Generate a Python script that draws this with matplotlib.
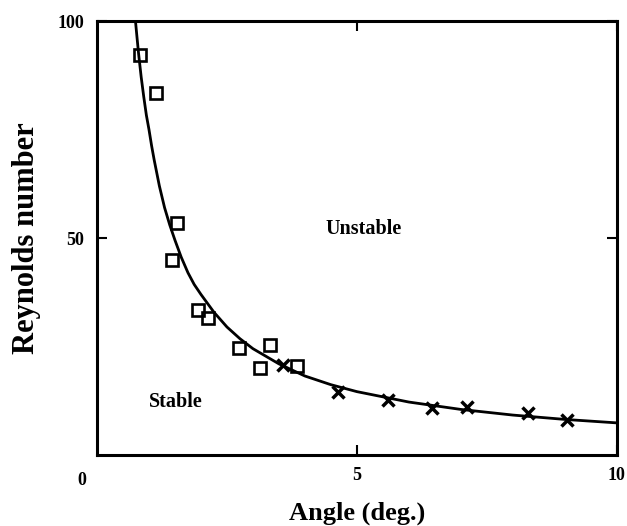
import matplotlib
matplotlib.use("Agg")
import matplotlib.pyplot as plt

# measured stability points
square_angle = [0.83, 1.13, 1.54, 1.44, 1.94, 2.13, 2.73, 3.33, 3.13, 3.85]
square_re = [92.2, 83.4, 53.5, 44.9, 33.4, 31.6, 24.7, 25.3, 20.0, 20.5]

cross_angle = [3.58, 4.63, 5.60, 6.44, 7.12, 8.29, 9.04]
cross_re = [20.7, 14.5, 12.7, 10.8, 11.1, 9.7, 8.1]

# neutral stability curve
curve_angle = [0.74, 0.77, 0.8, 0.85, 0.9, 0.95, 1.0, 1.05, 1.1, 1.15, 1.2,
               1.3, 1.4, 1.5, 1.62, 1.75, 1.87, 2.0, 2.25, 2.5, 2.75, 3.0,
               3.5, 4.0, 4.5, 5.0, 6.0, 7.0, 8.0, 9.0, 10.0]
curve_re = [100, 96.2, 92.5, 87.1, 82.5, 78.3, 75.0, 71.3, 68.0, 65.0, 62.0,
            57.0, 53.0, 49.5, 45.6, 42.0, 39.3, 37.0, 32.9, 29.5, 26.8, 24.5,
            21.0, 18.2, 16.2, 14.6, 12.2, 10.5, 9.2, 8.2, 7.4]

plt.rcParams['font.family'] = ['Liberation Serif', 'DejaVu Serif']

fig = plt.figure(figsize=(6.27, 5.26), dpi=100)
ax = fig.add_axes([0.1547, 0.135, 0.829, 0.825])

ax.plot(curve_angle, curve_re, color='black', lw=2.0)
ax.plot(square_angle, square_re, 's', ms=8.5, mfc='none', mec='black', mew=1.9)
ax.plot(cross_angle, cross_re, 'x', ms=9, mec='black', mew=2.5)

ax.set_xlim(0, 10)
ax.set_ylim(0, 100)
ax.set_xticks([5, 10])
ax.set_yticks([50, 100])
ax.tick_params(direction='in', length=7, width=1.5, top=True, right=True,
               labelsize=13, pad=9)
for lab in ax.get_xticklabels() + ax.get_yticklabels():
    lab.set_fontweight('bold')
ax.text(-0.02, -0.04, '0', transform=ax.transAxes, ha='right', va='top',
        fontsize=13, fontweight='bold')

for sp in ax.spines.values():
    sp.set_linewidth(2.2)

ax.text(5.13, 52, 'Unstable', ha='center', va='center', fontsize=14.5,
        fontweight='bold')
ax.text(1.52, 12.2, 'Stable', ha='center', va='center', fontsize=14.5,
        fontweight='bold')

ax.set_xlabel('Angle (deg.)', fontsize=19, fontweight='bold', labelpad=12)
ax.set_ylabel('Reynolds number', fontsize=22, fontweight='bold', labelpad=12)

fig.savefig('out.png', dpi=100)
